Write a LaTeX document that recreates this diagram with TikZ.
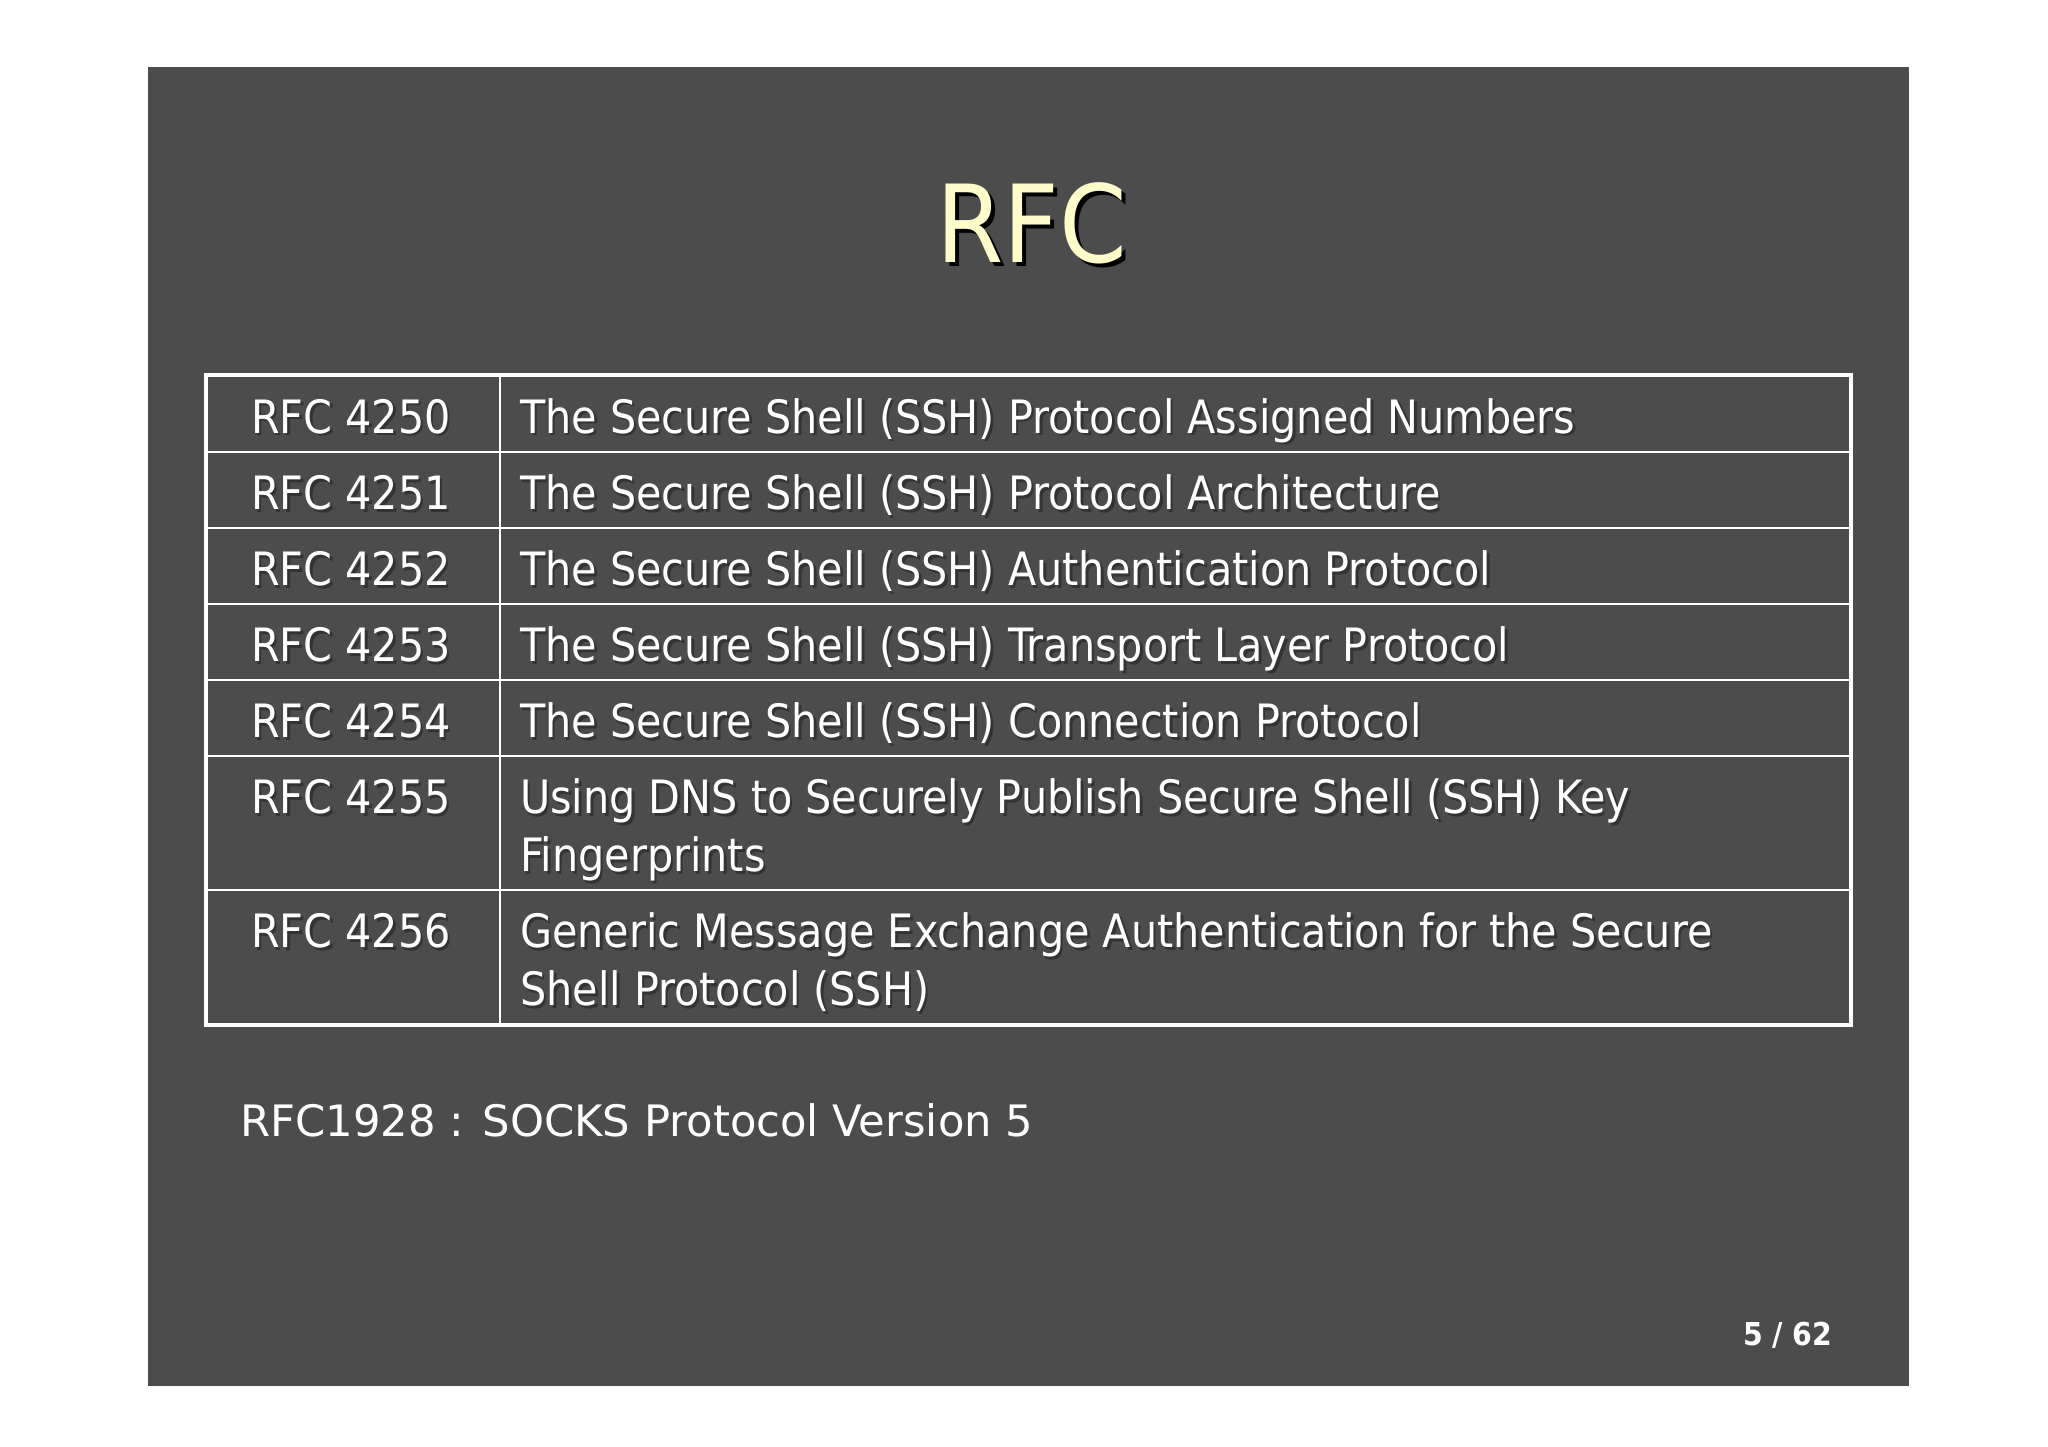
\documentclass[tikz,border=0pt]{standalone}
\usepackage{fontspec}
\setmainfont{DejaVu Sans}
\newfontfamily\cond{DejaVu Sans Condensed}
\begin{document}
\begin{tikzpicture}[x=1pt,y=-1pt,
  cell/.style={anchor=base west,inner sep=0pt,text=white,font=\cond\fontsize{35}{42}\selectfont},
  shad/.style={anchor=base west,inner sep=0pt,text=black!80,font=\cond\fontsize{35}{42}\selectfont},
  grid/.style={draw=white,line width=1.6pt}]
\useasboundingbox (0,0) rectangle (1560,1102);
\fill[white] (0,0) rectangle (1560,1102);
\fill[black!70] (113,51) rectangle (1454,1056);
% title
\node[anchor=base,inner sep=0pt,text=black,font=\cond\fontsize{82}{90}\selectfont] (tsh) at (789,203) {RFC};
\node[anchor=base,inner sep=0pt,text=yellow!20!white,font=\cond\fontsize{82}{90}\selectfont] (title) at (786,200) {RFC};
% table
\foreach \yy in {344,402,460,518,576,678} \draw[grid] (157,\yy) -- (1410,\yy);
\draw[grid] (381,286) -- (381,781);
\draw[draw=white,line width=3pt] (157,286) rectangle (1410,781);
\foreach \y/\n/\t [count=\i] in {330/4250/The Secure Shell (SSH) Protocol Assigned Numbers,
 388/4251/The Secure Shell (SSH) Protocol Architecture,
 446/4252/The Secure Shell (SSH) Authentication Protocol,
 504/4253/The Secure Shell (SSH) Transport Layer Protocol,
 562/4254/The Secure Shell (SSH) Connection Protocol,
 620/4255/Using DNS to Securely Publish Secure Shell (SSH) Key,
 722/4256/Generic Message Exchange Authentication for the Secure}{
  \node[shad] (ns\i) at (193,\y+2) {RFC \n};
  \node[cell] (n\i) at (191,\y) {RFC \n};
  \node[shad] (ts\i) at (398,\y+2) {\t};
  \node[cell] (t\i) at (396,\y) {\t};
}
\node[shad] (u1s) at (398,666) {Fingerprints};
\node[cell] (u1) at (396,664) {Fingerprints};
\node[shad] (u2s) at (398,768) {Shell Protocol (SSH)};
\node[cell] (u2) at (396,766) {Shell Protocol (SSH)};
% footer
\node[anchor=base west,inner sep=0pt,text=white,font=\fontsize{33}{40}\selectfont] (socks) at (183,866) {RFC1928 : SOCKS Protocol Version 5};
\node[anchor=base east,inner sep=0pt,text=white,font=\cond\bfseries\fontsize{24}{28}\selectfont] (pg) at (1396,1025) {5 / 62};
\end{tikzpicture}
\end{document}
